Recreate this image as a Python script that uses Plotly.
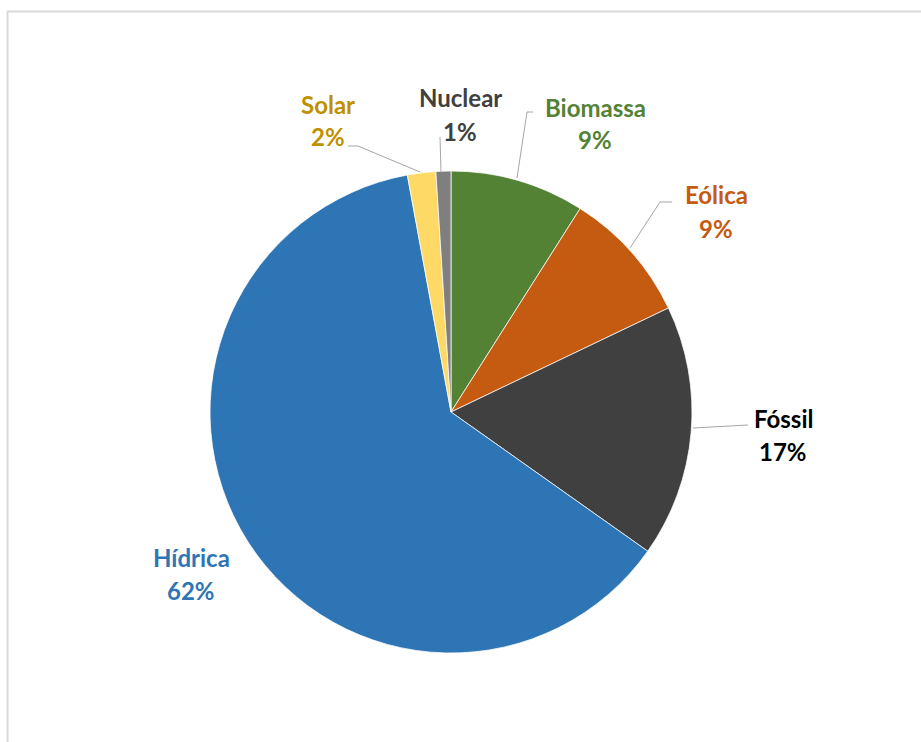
import plotly.graph_objects as go

W, H = 921, 742

labels = ["Biomassa", "Eólica", "Fóssil", "Hídrica", "Solar", "Nuclear"]
values = [9.0, 8.9, 16.9, 62.3, 1.9, 1.0]
slice_colors = ["#548235", "#C55A11", "#404040", "#2E75B6", "#FFD966", "#7F7F7F"]
text_colors = ["#548235", "#C55A11", "#000000", "#2E75B6", "#BF9000", "#404040"]

# label placement (pixels) and leader lines (pixels)
label_pos = {
    "Biomassa": (595, 107),
    "Eólica": (716, 195),
    "Fóssil": (783, 418),
    "Hídrica": (191, 557),
    "Solar": (328, 104),
    "Nuclear": (460, 98),
}
leaders = {
    "Biomassa": [(533, 112), (527, 112), (517, 178)],
    "Eólica": [(672, 202), (660, 202), (630, 248)],
    "Fóssil": [(748, 425), (693, 428)],
    "Solar": [(348, 146), (358, 146), (420, 172)],
    "Nuclear": [(440, 137), (441, 172)],
}

def px(x):
    return x / W

def py(y):
    return 1 - y / H

cx, cy, r = 451, 412, 241

fig = go.Figure(go.Pie(
    labels=labels,
    values=values,
    sort=False,
    direction="clockwise",
    rotation=0,
    marker=dict(colors=slice_colors, line=dict(color="white", width=0.75)),
    textinfo="none",
    hoverinfo="label+percent",
    showlegend=False,
    domain=dict(x=[px(cx - r), px(cx + r)], y=[py(cy + r), py(cy - r)]),
))

total = sum(values)
annotations = []
for lab, val, col in zip(labels, values, text_colors):
    x, y = label_pos[lab]
    pct = f"{round(val / total * 100)}%"
    for i, t in enumerate([lab, pct]):
        annotations.append(dict(
            x=px(x), y=py(y + i * 33), xref="paper", yref="paper",
            text=f"<b>{t}</b>", showarrow=False,
            xanchor="center", yanchor="middle",
            font=dict(family="Lato, Open Sans, sans-serif", size=24, color=col),
        ))

shapes = []
for lab, pts in leaders.items():
    path = "M " + " L ".join(f"{px(x)},{py(y)}" for x, y in pts)
    shapes.append(dict(type="path", path=path, xref="paper", yref="paper",
                       line=dict(color="#A6A6A6", width=1)))
shapes.append(dict(type="rect", xref="paper", yref="paper",
                   x0=px(7.5), y0=-0.1, x1=1.1, y1=py(11.5),
                   line=dict(color="#D9D9D9", width=2), fillcolor="rgba(0,0,0,0)"))

fig.update_layout(
    width=W, height=H,
    margin=dict(l=0, r=0, t=0, b=0),
    paper_bgcolor="white",
    plot_bgcolor="white",
    annotations=annotations,
    shapes=shapes,
)

fig.write_html(
    "out.html",
    config={"displayModeBar": False},
    post_script=(
        "document.documentElement.style.overflow='hidden';"
        "document.body.style.margin='0';"
        "document.body.style.overflow='hidden';"
    ),
)
